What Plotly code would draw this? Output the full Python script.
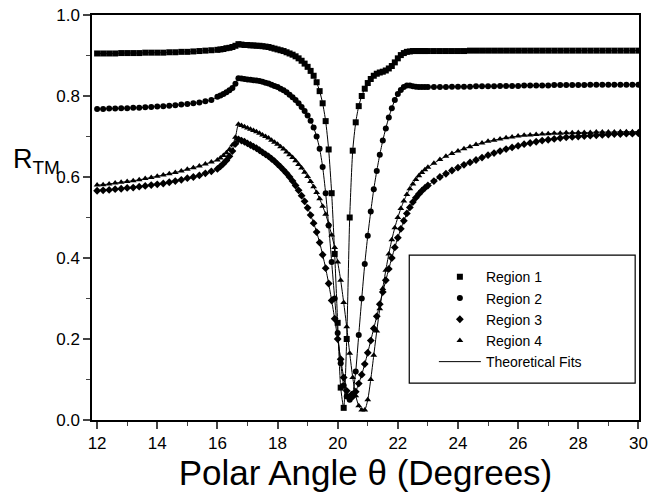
import plotly.graph_objects as go

# Measurement grid (degrees)
THETA = [12.0, 12.2, 12.4, 12.6, 12.8, 13.0, 13.2, 13.4, 13.6, 13.8,
         14.0, 14.2, 14.4, 14.6, 14.8, 15.0, 15.2, 15.4, 15.6, 15.8,
         16.0, 16.1, 16.2, 16.3, 16.4, 16.5, 16.6, 16.7, 16.8, 16.9,
         17.0, 17.1, 17.2, 17.3, 17.4, 17.5, 17.6, 17.7, 17.8, 17.9,
         18.0, 18.1, 18.2, 18.3, 18.4, 18.5, 18.6, 18.7, 18.8, 18.9,
         19.0, 19.1, 19.2, 19.3, 19.4, 19.5, 19.6, 19.7, 19.8, 19.9,
         20.0, 20.1, 20.2, 20.3, 20.4, 20.5, 20.6, 20.7, 20.8, 20.9,
         21.0, 21.1, 21.2, 21.3, 21.4, 21.5, 21.6, 21.7, 21.8, 21.9,
         22.0, 22.1, 22.2, 22.3, 22.4, 22.5, 22.6, 22.7, 22.8, 22.9,
         23.0, 23.2, 23.4, 23.6, 23.8, 24.0, 24.2, 24.4, 24.6, 24.8,
         25.0, 25.2, 25.4, 25.6, 25.8, 26.0, 26.2, 26.4, 26.6, 26.8,
         27.0, 27.2, 27.4, 27.6, 27.8, 28.0, 28.2, 28.4, 28.6, 28.8,
         29.0, 29.2, 29.4, 29.6, 29.8, 30.0]

REGION1 = [0.905, 0.905, 0.905, 0.905, 0.906, 0.906, 0.906, 0.906, 0.907, 0.907,
           0.907, 0.907, 0.908, 0.908, 0.909, 0.909, 0.910, 0.911, 0.912, 0.913,
           0.914, 0.915, 0.916, 0.918, 0.919, 0.921, 0.924, 0.928, 0.927, 0.926,
           0.926, 0.925, 0.925, 0.924, 0.924, 0.923, 0.922, 0.921, 0.919, 0.917,
           0.915, 0.913, 0.911, 0.908, 0.905, 0.902, 0.898, 0.893, 0.887, 0.880,
           0.872, 0.862, 0.850, 0.834, 0.812, 0.782, 0.738, 0.668, 0.560, 0.410,
           0.240, 0.080, 0.030, 0.200, 0.500, 0.665, 0.735, 0.775, 0.800, 0.818,
           0.832, 0.842, 0.850, 0.855, 0.858, 0.860, 0.863, 0.868, 0.874, 0.883,
           0.893, 0.901, 0.906, 0.909, 0.910, 0.911, 0.911, 0.911, 0.911, 0.911,
           0.911, 0.911, 0.911, 0.911, 0.911, 0.911, 0.911, 0.912, 0.912, 0.912,
           0.912, 0.912, 0.912, 0.912, 0.912, 0.912, 0.912, 0.912, 0.912, 0.912,
           0.912, 0.912, 0.912, 0.912, 0.912, 0.912, 0.912, 0.912, 0.912, 0.912,
           0.912, 0.912, 0.912, 0.912, 0.912, 0.912]

REGION2 = [0.768, 0.768, 0.769, 0.769, 0.770, 0.770, 0.771, 0.771, 0.772, 0.773,
           0.774, 0.775, 0.776, 0.777, 0.779, 0.780, 0.782, 0.784, 0.787, 0.790,
           0.798, 0.801, 0.805, 0.809, 0.814, 0.820, 0.830, 0.844, 0.843, 0.842,
           0.841, 0.840, 0.839, 0.838, 0.837, 0.835, 0.833, 0.831, 0.828, 0.825,
           0.822, 0.818, 0.814, 0.809, 0.803, 0.797, 0.790, 0.782, 0.773, 0.763,
           0.752, 0.739, 0.722, 0.700, 0.670, 0.625, 0.560, 0.480, 0.390, 0.300,
           0.215, 0.140, 0.085, 0.058, 0.050, 0.065, 0.120, 0.210, 0.300, 0.385,
           0.455, 0.515, 0.570, 0.615, 0.655, 0.690, 0.720, 0.747, 0.770, 0.790,
           0.805, 0.815, 0.822, 0.826, 0.826, 0.824, 0.823, 0.822, 0.822, 0.822,
           0.822, 0.822, 0.822, 0.822, 0.823, 0.823, 0.823, 0.823, 0.824, 0.824,
           0.824, 0.824, 0.825, 0.825, 0.825, 0.825, 0.826, 0.826, 0.826, 0.826,
           0.826, 0.827, 0.827, 0.827, 0.827, 0.827, 0.827, 0.828, 0.828, 0.828,
           0.828, 0.828, 0.828, 0.828, 0.828, 0.828]

REGION3 = [0.566, 0.567, 0.568, 0.570, 0.571, 0.573, 0.574, 0.576, 0.578, 0.580,
           0.582, 0.584, 0.587, 0.590, 0.593, 0.597, 0.600, 0.604, 0.609, 0.614,
           0.620, 0.626, 0.633, 0.641, 0.651, 0.664, 0.682, 0.693, 0.690, 0.687,
           0.683, 0.679, 0.675, 0.671, 0.666, 0.661, 0.656, 0.651, 0.645, 0.639,
           0.632, 0.625, 0.617, 0.609, 0.600, 0.590, 0.579, 0.567, 0.554, 0.540,
           0.524, 0.506, 0.486, 0.464, 0.438, 0.408, 0.375, 0.337, 0.295, 0.250,
           0.200, 0.150, 0.105, 0.072, 0.058, 0.058, 0.070, 0.090, 0.112, 0.138,
           0.166, 0.196, 0.226, 0.256, 0.286, 0.316, 0.345, 0.373, 0.400, 0.426,
           0.450, 0.472, 0.492, 0.510, 0.525, 0.538, 0.549, 0.558, 0.566, 0.573,
           0.579, 0.590, 0.600, 0.608, 0.616, 0.623, 0.630, 0.636, 0.642, 0.648,
           0.654, 0.659, 0.664, 0.669, 0.673, 0.677, 0.681, 0.684, 0.687, 0.690,
           0.692, 0.694, 0.696, 0.698, 0.699, 0.700, 0.701, 0.702, 0.703, 0.704,
           0.705, 0.706, 0.706, 0.707, 0.707, 0.708]

REGION4 = [0.580, 0.581, 0.583, 0.585, 0.587, 0.589, 0.591, 0.593, 0.596, 0.599,
           0.602, 0.605, 0.608, 0.611, 0.615, 0.619, 0.623, 0.627, 0.632, 0.637,
           0.642, 0.647, 0.653, 0.660, 0.668, 0.679, 0.698, 0.730, 0.727, 0.724,
           0.721, 0.718, 0.715, 0.712, 0.708, 0.704, 0.700, 0.696, 0.691, 0.686,
           0.681, 0.675, 0.669, 0.662, 0.655, 0.648, 0.640, 0.631, 0.622, 0.612,
           0.601, 0.589, 0.576, 0.562, 0.546, 0.528, 0.508, 0.484, 0.457, 0.426,
           0.390, 0.345, 0.290, 0.230, 0.165, 0.105, 0.060, 0.035, 0.025, 0.025,
           0.050, 0.100, 0.160, 0.220, 0.275, 0.325, 0.370, 0.410, 0.445, 0.475,
           0.500, 0.522, 0.541, 0.557, 0.571, 0.583, 0.594, 0.603, 0.611, 0.618,
           0.624, 0.634, 0.643, 0.651, 0.658, 0.664, 0.670, 0.675, 0.680, 0.684,
           0.688, 0.691, 0.694, 0.697, 0.699, 0.701, 0.703, 0.704, 0.705, 0.706,
           0.707, 0.708, 0.708, 0.709, 0.709, 0.710, 0.710, 0.710, 0.711, 0.711,
           0.711, 0.711, 0.712, 0.712, 0.712, 0.712]

SERIES_NAMES = ["Region 1", "Region 2", "Region 3", "Region 4"]
SERIES_VALUES = [REGION1, REGION2, REGION3, REGION4]
SYMBOLS = ["square", "circle", "diamond", "triangle-up"]
FIT_NAME = "Theoretical Fits"

FONT = "Liberation Sans, Arial, Helvetica, sans-serif"

fig = go.Figure()
for name, vals, sym in zip(SERIES_NAMES, SERIES_VALUES, SYMBOLS):
    fig.add_trace(go.Scatter(
        x=THETA, y=vals, mode="markers", name=name,
        marker=dict(symbol=sym, size=6, color="black", line=dict(width=0)),
    ))
for i, vals in enumerate(SERIES_VALUES):
    fig.add_trace(go.Scatter(
        x=THETA, y=vals, mode="lines", name=FIT_NAME,
        line=dict(color="black", width=1, shape="spline", smoothing=0.6),
        showlegend=(i == 0), legendgroup="fits",
    ))

fig.update_layout(
    width=649, height=495,
    margin=dict(l=92, r=10, t=15, b=75, autoexpand=False),
    paper_bgcolor="white", plot_bgcolor="white",
    font=dict(family=FONT, color="black", size=17),
    showlegend=True,
    legend=dict(x=0.625, y=0.392, xanchor="left", yanchor="top",
                bgcolor="rgba(0,0,0,0)", borderwidth=0,
                font=dict(size=14, family=FONT), itemwidth=42,
                tracegroupgap=0),
    xaxis=dict(range=[11.83, 30.02], tick0=12, dtick=2, ticks="outside", ticklen=7,
               tickwidth=1.5, showline=True, linecolor="black", linewidth=1.5,
               mirror=True, showgrid=False, zeroline=False, automargin=False,
               ticklabeloverflow="allow",
               minor=dict(dtick=1, ticks="outside", ticklen=4, tickwidth=1.2),
               tickfont=dict(size=17),
               title=dict(text="Polar Angle θ (Degrees)", font=dict(size=35), standoff=4)),
    yaxis=dict(range=[0, 1.0], tick0=0, dtick=0.2, tickformat=".1f", ticks="outside",
               ticklen=7, tickwidth=1.5, showline=True, linecolor="black", linewidth=1.5,
               mirror=True, showgrid=False, zeroline=False, automargin=False,
               ticklabeloverflow="allow",
               minor=dict(dtick=0.1, ticks="outside", ticklen=4, tickwidth=1.2),
               tickfont=dict(size=17)),
    shapes=[dict(type="rect", xref="paper", yref="paper",
                 x0=0.58, x1=0.993, y0=0.091, y1=0.407,
                 line=dict(color="black", width=1.2), fillcolor="rgba(0,0,0,0)")],
    annotations=[dict(text="R<sub>TM</sub>", xref="paper", yref="paper",
                      x=-0.148, y=0.64, xanchor="left", yanchor="middle",
                      showarrow=False, font=dict(size=27, family=FONT))],
)

fig.write_html("out.html")
